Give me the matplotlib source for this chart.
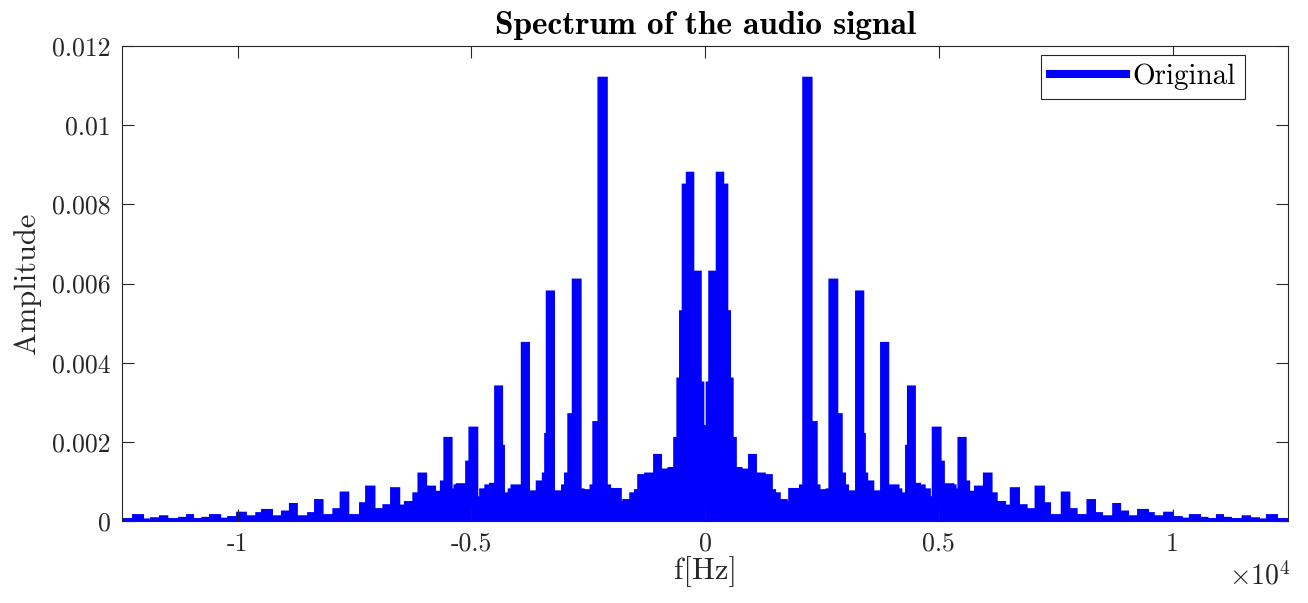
import numpy as np
import matplotlib
matplotlib.use("Agg")
import matplotlib.pyplot as plt
from matplotlib.lines import Line2D

plt.rcParams['font.family'] = 'cmr10'
plt.rcParams['mathtext.fontset'] = 'cm'
plt.rcParams['axes.unicode_minus'] = False

# positive half of the spectrum as a staircase: level holds from edge to next edge
# (the spectrum is mirrored for negative frequencies)
center_hz = [0, 35, 90, 250, 390, 478, 535, 592, 660, 780, 810, 940, 1090, 1280,
             1430, 1500, 1600, 1750, 1800, 2030]
center_amp = [0.0024, 0.0035, 0.0063, 0.0088, 0.0085, 0.0053, 0.0036, 0.0021, 0.00134,
              0.00087, 0.0013, 0.00167, 0.0012, 0.00116, 0.00078, 0.0007, 0.00053,
              0.00048, 0.00081, 0.0009]

mid_hz = [2100, 2280, 2390, 2450, 2600,
          2660, 2830, 2925, 2995, 3060,
          3230, 3386, 3420, 3470, 3600,
          3765, 3920, 4140, 4200, 4300,
          4340, 4490, 4600, 4700, 4810,
          4870, 5040, 5110, 5310, 5360,
          5420, 5576, 5650, 5775]
mid_amp = [0.0112, 0.0025, 0.0009, 0.00078, 0.0008,
           0.0061, 0.0027, 0.0012, 0.0009, 0.00075,
           0.0058, 0.0022, 0.0012, 0.001, 0.00075,
           0.0045, 0.0009, 0.0008, 0.0007, 0.0019,
           0.0034, 0.00094, 0.0009, 0.0008, 0.0006,
           0.00236, 0.0015, 0.00093, 0.0009, 0.0008,
           0.0021, 0.001, 0.00074, 0.00087]

tail_hz = [5965, 6130, 6240, 6420,
           6540, 6716, 6880,
           7070, 7250, 7380,
           7630, 7795, 7950,
           8180, 8342, 8490,
           8730, 8880, 9050,
           9262, 9476, 9600,
           9820, 10010, 10200,
           10370, 10590, 10750,
           10950, 11080, 11250,
           11500, 11660, 11850,
           12020, 12235]
tail_amp = [0.0012, 0.0007, 0.00048, 0.00039,
            0.00083, 0.0004, 0.0003,
            0.00087, 0.00045, 0.00015,
            0.00072, 0.0003, 0.00015,
            0.00053, 0.0002, 0.00012,
            0.00043, 0.00024, 0.00012,
            0.00028, 0.0002, 0.00012,
            0.00021, 0.0001, 0.00006,
            0.00015, 0.00008, 0.00005,
            0.00015, 0.00008, 0.00005,
            0.00012, 0.00007, 0.00004,
            0.00015, 0.00005]

f_max = 12470
xtick_vals = [-10000, -5000, 0, 5000, 10000]
xtick_labels = ['-1', '-0.5', '0', '0.5', '1']
ytick_vals = [0, 0.002, 0.004, 0.006, 0.008, 0.01, 0.012]
ytick_labels = ['0', '0.002', '0.004', '0.006', '0.008', '0.01', '0.012']

edges = np.array(center_hz + mid_hz + tail_hz, dtype=float)
levels = np.array(center_amp + mid_amp + tail_amp)

# mirror to the negative side
neg_x = -np.append(edges[1:], f_max)[::-1]
neg_y = levels[::-1]
f_edges = np.concatenate([neg_x, edges, [f_max]])
amp = np.concatenate([neg_y, levels])

fig = plt.figure(figsize=(13.08, 6.03), dpi=100)
ax = fig.add_axes([0.0933, 0.136, 0.8914, 0.7877])

blue = '#0000ff'
fill = ax.stairs(amp, f_edges, baseline=0, fill=True, color=blue)
fill.set_snap(False)
edge = ax.stairs(amp, f_edges, baseline=None, color=blue, lw=1.4)
edge.set_snap(False)

ax.set_xlim(-f_max, f_max)
ax.set_ylim(0, 0.012)

dark = '#262626'
ax.set_xticks(xtick_vals)
ax.set_xticklabels(xtick_labels)
ax.set_yticks(ytick_vals)
ax.set_yticklabels(ytick_labels)
ax.tick_params(direction='in', length=8.6, width=0.8, top=True, right=True,
               labelsize=18.5, colors=dark, pad=8)
for sp in ax.spines.values():
    sp.set_color(dark)
    sp.set_linewidth(0.8)

ax.set_title('Spectrum of the audio signal', fontsize=24, fontfamily='cmb10', pad=9)
ax.set_xlabel('f[Hz]', fontsize=22, color=dark, labelpad=0)
ax.set_ylabel('Amplitude', fontsize=22, color=dark, labelpad=8)
fig.text(1291 / 1308, 1 - 576 / 603, r'$\times10^{4}$', fontsize=20, color=dark,
         ha='right', va='center')

handle = Line2D([], [], color=blue, lw=5.8)
leg = ax.legend([handle], ['Original'], loc='upper right', fontsize=21,
                handlelength=2.6, handletextpad=0.25, borderpad=0.3, borderaxespad=0,
                bbox_to_anchor=(0.9631, 0.981), fancybox=False, framealpha=1)
leg.get_frame().set_edgecolor(dark)
leg.get_frame().set_linewidth(0.8)

fig.savefig('out.png', dpi=100)
